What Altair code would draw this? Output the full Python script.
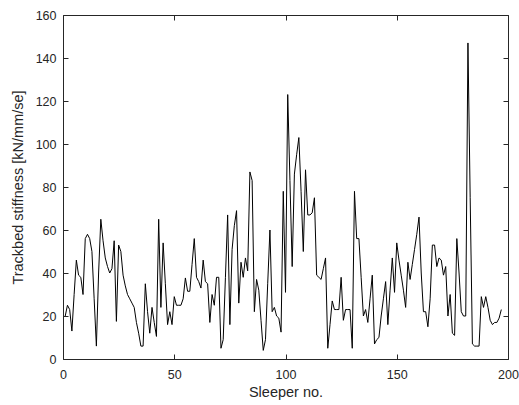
import altair as alt
import pandas as pd

sleeper = list(range(1, 198))
stiffness = [
    20, 25, 23, 13, 30, 46, 39, 38, 30, 56,
    58, 56, 50, 28, 6, 40, 65, 55, 47, 43,
    40, 42, 55, 17.5, 53, 50, 39, 34, 30, 28,
    26, 24, 17, 12, 6, 6, 35, 22, 12, 24,
    17, 10.5, 65, 24, 54, 35, 16, 22, 16, 29,
    25, 25, 25, 28, 37.7, 31.5, 31.5, 44, 56, 38,
    36, 33, 46, 36, 35, 17, 30, 25, 38, 38,
    5, 9, 38, 67, 16, 51, 62, 69, 26, 45,
    38, 47, 41, 87, 83, 22, 37, 32, 18, 4,
    9, 35, 60, 22, 24, 20, 19, 12.5, 78, 31,
    123, 83, 43, 86, 95, 103, 78, 50, 88, 67,
    67, 68, 75, 39, 38, 37, 42, 47, 5, 16,
    27, 23, 23, 23, 38, 18, 23, 23, 23, 5,
    78, 56, 56, 38, 20, 23, 17, 28, 39, 7,
    9, 10, 20, 28, 36, 16, 32, 47, 31, 54,
    46, 39, 32, 24, 45, 37, 44, 51, 58, 66,
    40, 22, 22, 15, 28, 53, 53, 43, 47, 46,
    39, 43, 20, 30, 12, 11, 56, 40, 22, 20,
    20, 147, 75, 7, 6, 6, 6, 29, 24, 29,
    24, 18, 16, 17, 17, 19, 23,
]
x_ticks = [0, 50, 100, 150, 200]
y_ticks = [0, 20, 40, 60, 80, 100, 120, 140, 160]

df = pd.DataFrame({"sleeper": sleeper, "stiffness": stiffness})

FONT = "Liberation Sans"
DARK = "#262626"

xscale = alt.Scale(domain=[0, 200], nice=False, zero=False)
yscale = alt.Scale(domain=[0, 160], nice=False)

main = alt.Chart(df).mark_line(color="black", strokeWidth=1).encode(
    x=alt.X("sleeper:Q", scale=xscale, title="Sleeper no.",
            axis=alt.Axis(values=x_ticks, orient="bottom", offset=-5, tickSize=5,
                          domain=False, grid=False, labelPadding=9, titlePadding=5,
                          labelFontSize=12.5, titleFontSize=14.5, labelFont=FONT,
                          titleFont=FONT, titleFontWeight="normal",
                          labelColor=DARK, titleColor=DARK, tickColor=DARK,
                          labelFlush=False)),
    y=alt.Y("stiffness:Q", scale=yscale, title="Trackbed stiffness [kN/mm/se]",
            axis=alt.Axis(values=y_ticks, orient="left", offset=-5, tickSize=5,
                          domain=False, grid=False, labelPadding=7, titlePadding=10,
                          labelFontSize=12.5, titleFontSize=14.5, labelFont=FONT,
                          titleFont=FONT, titleFontWeight="normal",
                          labelColor=DARK, titleColor=DARK, tickColor=DARK)),
)

mirror = alt.Chart(df).mark_line(opacity=0).encode(
    x=alt.X("sleeper:Q", scale=xscale, title=None,
            axis=alt.Axis(values=x_ticks, orient="top", offset=-5, tickSize=5,
                          domain=False, grid=False, labels=False, tickColor=DARK)),
    y=alt.Y("stiffness:Q", scale=yscale, title=None,
            axis=alt.Axis(values=y_ticks, orient="right", offset=-5, tickSize=5,
                          domain=False, grid=False, labels=False, tickColor=DARK)),
)

chart = alt.layer(main, mirror).resolve_axis(x="independent", y="independent").properties(
    width=445, height=344,
    autosize=alt.AutoSizeParams(type="none"),
    padding={"left": 63, "top": 15, "right": 11, "bottom": 46},
    background="white",
).configure_view(stroke=DARK, strokeWidth=1)

chart.save("out.html", embed_options={"renderer": "svg", "actions": False})
